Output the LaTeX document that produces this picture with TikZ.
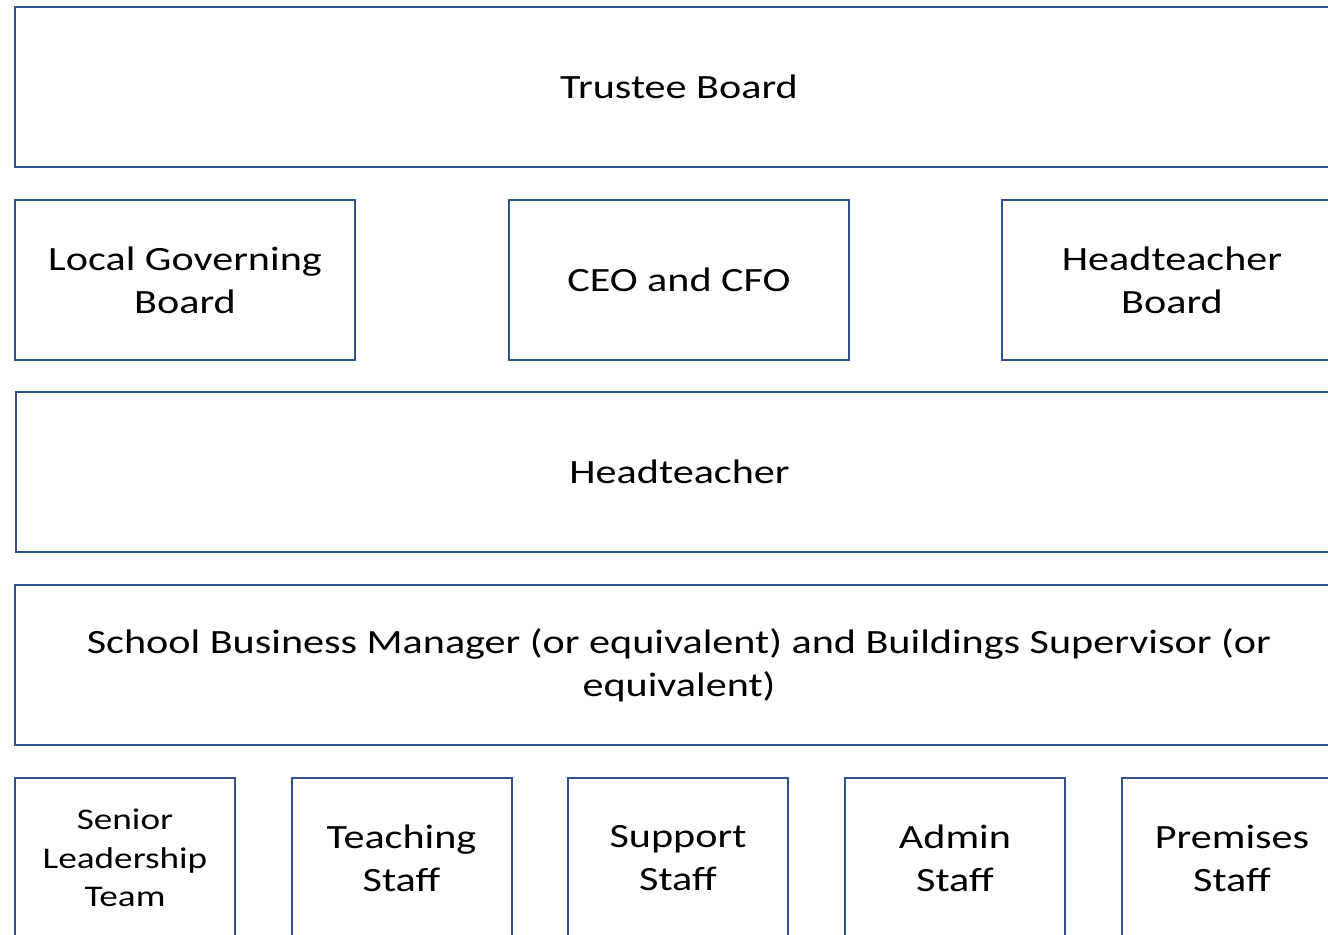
\documentclass[tikz,border=0pt]{standalone}
\usepackage{fontspec}
\setmainfont{Carlito}[FakeStretch=1.24]
\definecolor{boxblue}{HTML}{2F528F}
\begin{document}
\begin{tikzpicture}[x=0.5pt,y=-0.5pt,
  box/.style={draw=boxblue, line width=1pt, inner sep=0pt, align=center,
    font=\fontsize{17}{21.5}\selectfont, text=black},
  small/.style={box, font=\fontsize{15}{19.2}\selectfont}]
\useasboundingbox (0,0) rectangle (1328,934);
\clip (0,0) rectangle (1328,934);
\node[box, minimum width=664pt, minimum height=80pt] (trustee) at (679,87) {Trustee Board};
\node[box, minimum width=170pt, minimum height=80pt] (lgb) at (185,280) {Local Governing\\Board};
\node[box, minimum width=170pt, minimum height=80pt] (ceo) at (679,280) {CEO and CFO};
\node[box, minimum width=170pt, minimum height=80pt] (htb) at (1172,280) {Headteacher\\Board};
\node[box, minimum width=663.5pt, minimum height=80pt] (head) at (679.5,472) {Headteacher};
\node[box, minimum width=664pt, minimum height=80pt] (sbm) at (679,665) {School Business Manager (or equivalent) and Buildings Supervisor (or\\equivalent)};
\node[small, minimum width=110pt, minimum height=80pt] (slt) at (125,858) {Senior\\Leadership\\Team};
\node[box, minimum width=110pt, minimum height=80pt] (teach) at (401.5,858) {Teaching\\Staff};
\node[box, minimum width=110pt, minimum height=80pt] (support) at (678,858) {Support\\Staff};
\node[box, minimum width=110pt, minimum height=80pt] (admin) at (955,858) {Admin\\Staff};
\node[box, minimum width=110pt, minimum height=80pt] (prem) at (1232,858) {Premises\\Staff};
\end{tikzpicture}
\end{document}
